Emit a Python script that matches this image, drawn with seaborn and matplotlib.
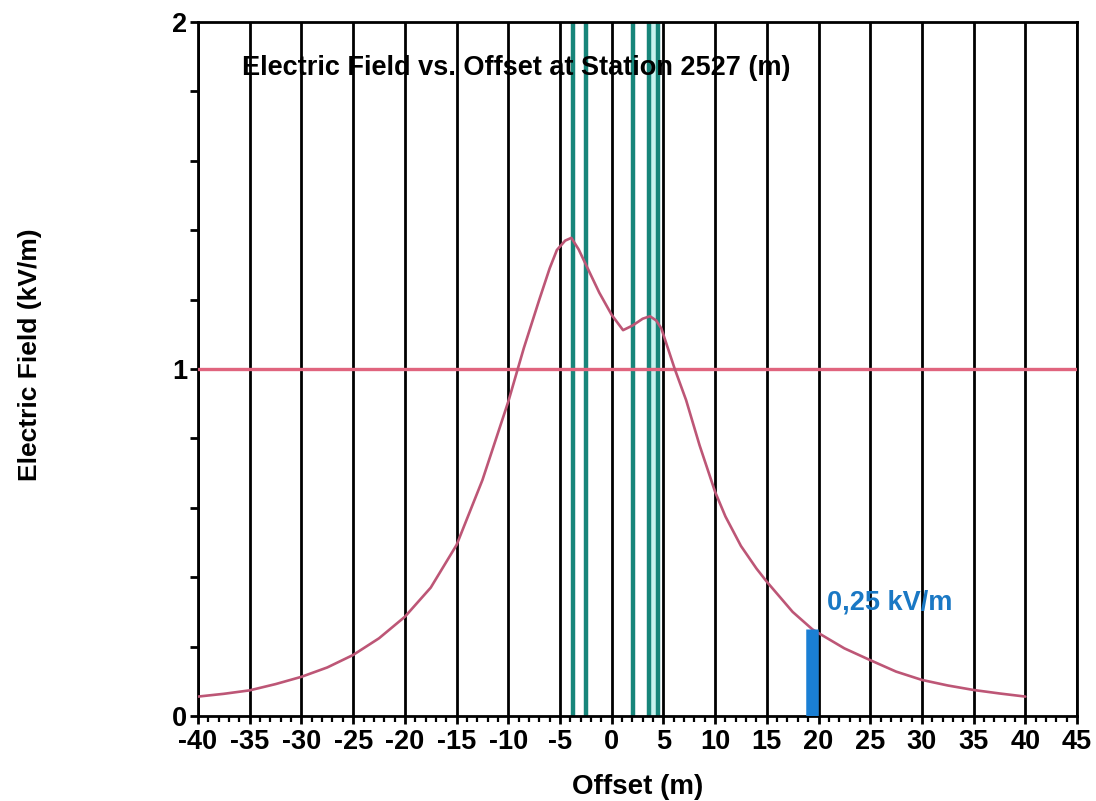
import numpy as np
import pandas as pd
import matplotlib
matplotlib.use("Agg")
import matplotlib.pyplot as plt
import seaborn as sns
from matplotlib.ticker import MultipleLocator

# Lateral offset from the centreline (m) and computed electric field (kV/m)
offset_m = [-40, -37.5, -35, -32.5, -30, -27.5, -25, -22.5, -20, -17.5, -15, -12.5,
            -10, -8.5, -7, -6, -5.3, -4.5, -3.9, -3.2, -2.4, -1.2, 0, 1.1, 2.0,
            3.0, 3.7, 4.3, 4.8, 6.1, 7.2, 8.5, 10, 11, 12.5, 14, 15, 17.5, 19.4,
            20, 22.5, 25, 27.5, 30, 32.5, 35, 37.5, 40]
field_kv_m = [0.056, 0.064, 0.074, 0.092, 0.113, 0.140, 0.176, 0.224, 0.286, 0.370,
              0.493, 0.680, 0.906, 1.060, 1.200, 1.290, 1.343, 1.370, 1.378, 1.345,
              1.295, 1.220, 1.156, 1.112, 1.125, 1.145, 1.152, 1.140, 1.117, 1.000,
              0.910, 0.780, 0.646, 0.575, 0.490, 0.425, 0.387, 0.300, 0.250, 0.239,
              0.195, 0.161, 0.128, 0.104, 0.088, 0.075, 0.065, 0.056]

# Conductor positions (m)
conductor_offsets = [-3.75, -2.45, 2.05, 3.65, 4.5]

# Limit line and edge-of-ROW marker
limit_kv_m = 1.0
edge_offset = 19.4
edge_value = 0.25
edge_label = "0,25 kV/m"

x_ticks = list(range(-40, 50, 5))
y_ticks = [0, 1, 2]

title_text = "Electric Field vs. Offset at Station 2527 (m)"
x_label = "Offset (m)"
y_label = "Electric Field (kV/m)"

sns.set_style("white")
plt.rcParams["font.family"] = ["Liberation Sans", "DejaVu Sans"]
plt.rcParams["font.weight"] = "bold"
plt.rcParams["axes.unicode_minus"] = False
for key in ["text.color", "axes.labelcolor", "xtick.color", "ytick.color"]:
    plt.rcParams[key] = "black"

fig = plt.figure(figsize=(10.96, 8.01), dpi=100)
ax = fig.add_axes([0.1807, 0.1061, 0.8020, 0.8664])

ax.set_xlim(-40, 45)
ax.set_ylim(0, 2)

# Vertical grid at every major offset
for xv in x_ticks:
    ax.axvline(xv, color="black", lw=2.0, zorder=1)

# Conductors
ax.axvspan(3.75, 4.4, color="#c8f2ef", lw=0, zorder=1.5)
for xc in conductor_offsets:
    ax.axvline(xc, color="#17857a", lw=3.2, zorder=2)

# Limit line
ax.axhline(limit_kv_m, color="#e0647e", lw=2.4, zorder=3)

# Field profile
df = pd.DataFrame({"offset": offset_m, "field": field_kv_m})
sns.lineplot(data=df, x="offset", y="field", ax=ax, color="#bd5676", lw=1.9,
             zorder=4, sort=False)

# Edge marker
ax.vlines([edge_offset], [0], [edge_value], colors="#1a7fd4", lw=9, zorder=5)
ax.text(20.85, 0.326, edge_label, color="#1a78c4", fontsize=19.5, fontweight="bold",
        va="center", ha="left", zorder=6)

ax.text(0.05, 0.934, title_text, transform=ax.transAxes, fontsize=19.5,
        fontweight="bold", va="center", ha="left", zorder=6)

# Axes styling
for side in ["left", "right", "top", "bottom"]:
    ax.spines[side].set_visible(True)
    ax.spines[side].set_color("black")
    ax.spines[side].set_linewidth(2.0)

ax.set_xticks(x_ticks)
ax.set_xticklabels([str(v) for v in x_ticks])
ax.xaxis.set_minor_locator(MultipleLocator(1))
ax.set_yticks(y_ticks)
ax.set_yticklabels([str(v) for v in y_ticks])
ax.yaxis.set_minor_locator(MultipleLocator(0.2))

ax.tick_params(axis="x", which="major", direction="out", length=6, width=2,
               labelsize=19.5, pad=3, bottom=True)
ax.tick_params(axis="x", which="minor", direction="out", length=4, width=1.6,
               bottom=True)
ax.tick_params(axis="y", which="major", direction="out", length=6, width=2,
               labelsize=19.5, pad=2, left=True)
ax.tick_params(axis="y", which="minor", direction="out", length=6, width=2,
               left=True)
for lab in ax.get_xticklabels() + ax.get_yticklabels():
    lab.set_fontweight("bold")

ax.set_xlabel(x_label, fontsize=20, fontweight="bold")
ax.set_ylabel(y_label, fontsize=19, fontweight="bold")
ax.xaxis.label.set_va("center")
ax.yaxis.label.set_va("center")
ax.xaxis.set_label_coords(0.5, -0.102)
ax.yaxis.set_label_coords(-0.191, 0.52)
ax.grid(False)

fig.savefig("out.png", dpi=100, facecolor="white")
